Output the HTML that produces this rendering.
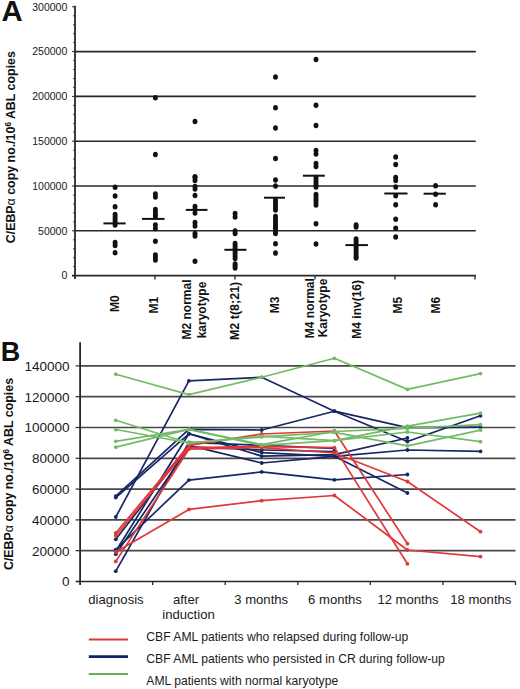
<!DOCTYPE html><html><head><meta charset="utf-8"><style>html,body{margin:0;padding:0;background:#fff;}svg{display:block;}text{font-family:"Liberation Sans",sans-serif;}</style></head><body>
<svg width="520" height="689" viewBox="0 0 520 689">
<rect width="520" height="689" fill="#fff"/>
<text x="1.5" y="20.5" font-size="29.3" font-weight="bold" fill="#111">A</text>
<line x1="75" y1="230.8" x2="475.8" y2="230.8" stroke="#282828" stroke-width="1.6"/>
<line x1="75" y1="186.0" x2="475.8" y2="186.0" stroke="#282828" stroke-width="1.6"/>
<line x1="75" y1="141.2" x2="475.8" y2="141.2" stroke="#282828" stroke-width="1.6"/>
<line x1="75" y1="96.4" x2="475.8" y2="96.4" stroke="#282828" stroke-width="1.6"/>
<line x1="75" y1="51.6" x2="475.8" y2="51.6" stroke="#282828" stroke-width="1.6"/>
<line x1="72" y1="275.6" x2="475.8" y2="275.6" stroke="#282828" stroke-width="1.6"/>
<line x1="75" y1="5.8" x2="75" y2="279" stroke="#282828" stroke-width="1.8"/>
<line x1="72" y1="275.6" x2="75" y2="275.6" stroke="#282828" stroke-width="1"/>
<line x1="73.2" y1="266.6" x2="75" y2="266.6" stroke="#282828" stroke-width="1"/>
<line x1="73.2" y1="257.7" x2="75" y2="257.7" stroke="#282828" stroke-width="1"/>
<line x1="73.2" y1="248.7" x2="75" y2="248.7" stroke="#282828" stroke-width="1"/>
<line x1="73.2" y1="239.8" x2="75" y2="239.8" stroke="#282828" stroke-width="1"/>
<line x1="72" y1="230.8" x2="75" y2="230.8" stroke="#282828" stroke-width="1"/>
<line x1="73.2" y1="221.8" x2="75" y2="221.8" stroke="#282828" stroke-width="1"/>
<line x1="73.2" y1="212.9" x2="75" y2="212.9" stroke="#282828" stroke-width="1"/>
<line x1="73.2" y1="203.9" x2="75" y2="203.9" stroke="#282828" stroke-width="1"/>
<line x1="73.2" y1="195.0" x2="75" y2="195.0" stroke="#282828" stroke-width="1"/>
<line x1="72" y1="186.0" x2="75" y2="186.0" stroke="#282828" stroke-width="1"/>
<line x1="73.2" y1="177.0" x2="75" y2="177.0" stroke="#282828" stroke-width="1"/>
<line x1="73.2" y1="168.1" x2="75" y2="168.1" stroke="#282828" stroke-width="1"/>
<line x1="73.2" y1="159.1" x2="75" y2="159.1" stroke="#282828" stroke-width="1"/>
<line x1="73.2" y1="150.2" x2="75" y2="150.2" stroke="#282828" stroke-width="1"/>
<line x1="72" y1="141.2" x2="75" y2="141.2" stroke="#282828" stroke-width="1"/>
<line x1="73.2" y1="132.2" x2="75" y2="132.2" stroke="#282828" stroke-width="1"/>
<line x1="73.2" y1="123.3" x2="75" y2="123.3" stroke="#282828" stroke-width="1"/>
<line x1="73.2" y1="114.3" x2="75" y2="114.3" stroke="#282828" stroke-width="1"/>
<line x1="73.2" y1="105.4" x2="75" y2="105.4" stroke="#282828" stroke-width="1"/>
<line x1="72" y1="96.4" x2="75" y2="96.4" stroke="#282828" stroke-width="1"/>
<line x1="73.2" y1="87.4" x2="75" y2="87.4" stroke="#282828" stroke-width="1"/>
<line x1="73.2" y1="78.5" x2="75" y2="78.5" stroke="#282828" stroke-width="1"/>
<line x1="73.2" y1="69.5" x2="75" y2="69.5" stroke="#282828" stroke-width="1"/>
<line x1="73.2" y1="60.6" x2="75" y2="60.6" stroke="#282828" stroke-width="1"/>
<line x1="72" y1="51.6" x2="75" y2="51.6" stroke="#282828" stroke-width="1"/>
<line x1="73.2" y1="42.6" x2="75" y2="42.6" stroke="#282828" stroke-width="1"/>
<line x1="73.2" y1="33.7" x2="75" y2="33.7" stroke="#282828" stroke-width="1"/>
<line x1="73.2" y1="24.7" x2="75" y2="24.7" stroke="#282828" stroke-width="1"/>
<line x1="73.2" y1="15.8" x2="75" y2="15.8" stroke="#282828" stroke-width="1"/>
<line x1="72" y1="6.8" x2="75" y2="6.8" stroke="#282828" stroke-width="1"/>
<line x1="155" y1="275.6" x2="155" y2="279.5" stroke="#282828" stroke-width="1.3"/>
<line x1="235" y1="275.6" x2="235" y2="279.5" stroke="#282828" stroke-width="1.3"/>
<line x1="315" y1="275.6" x2="315" y2="279.5" stroke="#282828" stroke-width="1.3"/>
<line x1="395" y1="275.6" x2="395" y2="279.5" stroke="#282828" stroke-width="1.3"/>
<line x1="475" y1="275.6" x2="475" y2="279.5" stroke="#282828" stroke-width="1.3"/>
<text x="67.3" y="279.4" font-size="10.5" text-anchor="end" fill="#1a1a1a">0</text>
<text x="67.3" y="234.6" font-size="10.5" text-anchor="end" fill="#1a1a1a">50000</text>
<text x="67.3" y="189.8" font-size="10.5" text-anchor="end" fill="#1a1a1a">100000</text>
<text x="67.3" y="145.0" font-size="10.5" text-anchor="end" fill="#1a1a1a">150000</text>
<text x="67.3" y="100.2" font-size="10.5" text-anchor="end" fill="#1a1a1a">200000</text>
<text x="67.3" y="55.4" font-size="10.5" text-anchor="end" fill="#1a1a1a">250000</text>
<text x="67.3" y="10.6" font-size="10.5" text-anchor="end" fill="#1a1a1a">300000</text>
<text transform="translate(15.2,147.2) rotate(-90)" font-size="12.4" font-weight="bold" text-anchor="middle" fill="#111">C/EBP<tspan font-weight="normal">α</tspan> copy no./10<tspan font-size="8.2" dy="-4.3">6</tspan><tspan dy="4.3"> ABL copies</tspan></text>
<text transform="translate(119.1,303.6) rotate(-90)" font-size="12" font-weight="bold" text-anchor="middle" fill="#111">M0</text>
<text transform="translate(158.0,305.2) rotate(-90)" font-size="12" font-weight="bold" text-anchor="middle" fill="#111">M1</text>
<text transform="translate(190.8,309.5) rotate(-90)" font-size="12" font-weight="bold" text-anchor="middle" fill="#111">M2 normal</text>
<text transform="translate(205.5,310.0) rotate(-90)" font-size="12" font-weight="bold" text-anchor="middle" fill="#111">karyotype</text>
<text transform="translate(239.4,310.9) rotate(-90)" font-size="12.5" font-weight="bold" text-anchor="middle" fill="#111">M2 t(8;21)</text>
<text transform="translate(278.8,305.0) rotate(-90)" font-size="12" font-weight="bold" text-anchor="middle" fill="#111">M3</text>
<text transform="translate(313.9,308.2) rotate(-90)" font-size="12" font-weight="bold" text-anchor="middle" fill="#111">M4 normal</text>
<text transform="translate(327.4,308.0) rotate(-90)" font-size="12" font-weight="bold" text-anchor="middle" fill="#111">Karyotype</text>
<text transform="translate(360.7,309.3) rotate(-90)" font-size="12" font-weight="bold" text-anchor="middle" fill="#111">M4 inv(16)</text>
<text transform="translate(401.5,305.2) rotate(-90)" font-size="12" font-weight="bold" text-anchor="middle" fill="#111">M5</text>
<text transform="translate(440.0,305.2) rotate(-90)" font-size="12" font-weight="bold" text-anchor="middle" fill="#111">M6</text>
<ellipse cx="115.1" cy="187.2" rx="2.45" ry="2.75" fill="#111"/>
<ellipse cx="115.1" cy="196" rx="2.45" ry="2.75" fill="#111"/>
<ellipse cx="115.1" cy="206.7" rx="2.45" ry="2.75" fill="#111"/>
<ellipse cx="115.1" cy="214.5" rx="2.45" ry="2.75" fill="#111"/>
<ellipse cx="115.1" cy="217" rx="2.45" ry="2.75" fill="#111"/>
<ellipse cx="115.1" cy="219.5" rx="2.45" ry="2.75" fill="#111"/>
<ellipse cx="115.1" cy="222" rx="2.45" ry="2.75" fill="#111"/>
<ellipse cx="115.1" cy="225" rx="2.45" ry="2.75" fill="#111"/>
<ellipse cx="115.1" cy="242.5" rx="2.45" ry="2.75" fill="#111"/>
<ellipse cx="115.1" cy="245.5" rx="2.45" ry="2.75" fill="#111"/>
<ellipse cx="115.1" cy="252.7" rx="2.45" ry="2.75" fill="#111"/>
<ellipse cx="155.4" cy="97.7" rx="2.45" ry="2.75" fill="#111"/>
<ellipse cx="155.4" cy="154.4" rx="2.45" ry="2.75" fill="#111"/>
<ellipse cx="155.4" cy="194" rx="2.45" ry="2.75" fill="#111"/>
<ellipse cx="155.4" cy="197" rx="2.45" ry="2.75" fill="#111"/>
<ellipse cx="155.4" cy="209.5" rx="2.45" ry="2.75" fill="#111"/>
<ellipse cx="155.4" cy="212" rx="2.45" ry="2.75" fill="#111"/>
<ellipse cx="155.4" cy="214.5" rx="2.45" ry="2.75" fill="#111"/>
<ellipse cx="155.4" cy="216.5" rx="2.45" ry="2.75" fill="#111"/>
<ellipse cx="155.4" cy="225" rx="2.45" ry="2.75" fill="#111"/>
<ellipse cx="155.4" cy="228.5" rx="2.45" ry="2.75" fill="#111"/>
<ellipse cx="155.4" cy="241.3" rx="2.45" ry="2.75" fill="#111"/>
<ellipse cx="155.4" cy="255" rx="2.45" ry="2.75" fill="#111"/>
<ellipse cx="155.4" cy="257.5" rx="2.45" ry="2.75" fill="#111"/>
<ellipse cx="155.4" cy="260" rx="2.45" ry="2.75" fill="#111"/>
<ellipse cx="195.0" cy="121.5" rx="2.45" ry="2.75" fill="#111"/>
<ellipse cx="195.0" cy="176.7" rx="2.45" ry="2.75" fill="#111"/>
<ellipse cx="195.0" cy="177.5" rx="2.45" ry="2.75" fill="#111"/>
<ellipse cx="195.0" cy="180.5" rx="2.45" ry="2.75" fill="#111"/>
<ellipse cx="195.0" cy="186.5" rx="2.45" ry="2.75" fill="#111"/>
<ellipse cx="195.0" cy="189" rx="2.45" ry="2.75" fill="#111"/>
<ellipse cx="195.0" cy="195.4" rx="2.45" ry="2.75" fill="#111"/>
<ellipse cx="195.0" cy="206.5" rx="2.45" ry="2.75" fill="#111"/>
<ellipse cx="195.0" cy="209.5" rx="2.45" ry="2.75" fill="#111"/>
<ellipse cx="195.0" cy="213" rx="2.45" ry="2.75" fill="#111"/>
<ellipse cx="195.0" cy="222.5" rx="2.45" ry="2.75" fill="#111"/>
<ellipse cx="195.0" cy="226" rx="2.45" ry="2.75" fill="#111"/>
<ellipse cx="195.0" cy="233.5" rx="2.45" ry="2.75" fill="#111"/>
<ellipse cx="195.0" cy="236" rx="2.45" ry="2.75" fill="#111"/>
<ellipse cx="195.0" cy="261.3" rx="2.45" ry="2.75" fill="#111"/>
<ellipse cx="235.1" cy="213.5" rx="2.45" ry="2.75" fill="#111"/>
<ellipse cx="235.1" cy="217" rx="2.45" ry="2.75" fill="#111"/>
<ellipse cx="235.1" cy="231" rx="2.45" ry="2.75" fill="#111"/>
<ellipse cx="235.1" cy="233.5" rx="2.45" ry="2.75" fill="#111"/>
<ellipse cx="235.1" cy="243.5" rx="2.45" ry="2.75" fill="#111"/>
<ellipse cx="235.1" cy="246" rx="2.45" ry="2.75" fill="#111"/>
<ellipse cx="235.1" cy="248.5" rx="2.45" ry="2.75" fill="#111"/>
<ellipse cx="235.1" cy="251" rx="2.45" ry="2.75" fill="#111"/>
<ellipse cx="235.1" cy="253.5" rx="2.45" ry="2.75" fill="#111"/>
<ellipse cx="235.1" cy="256" rx="2.45" ry="2.75" fill="#111"/>
<ellipse cx="235.1" cy="258.5" rx="2.45" ry="2.75" fill="#111"/>
<ellipse cx="235.1" cy="264" rx="2.45" ry="2.75" fill="#111"/>
<ellipse cx="235.1" cy="266" rx="2.45" ry="2.75" fill="#111"/>
<ellipse cx="235.1" cy="268" rx="2.45" ry="2.75" fill="#111"/>
<ellipse cx="275.5" cy="76.9" rx="2.45" ry="2.75" fill="#111"/>
<ellipse cx="275.5" cy="107.7" rx="2.45" ry="2.75" fill="#111"/>
<ellipse cx="275.5" cy="128" rx="2.45" ry="2.75" fill="#111"/>
<ellipse cx="275.5" cy="158.6" rx="2.45" ry="2.75" fill="#111"/>
<ellipse cx="275.5" cy="180.1" rx="2.45" ry="2.75" fill="#111"/>
<ellipse cx="275.5" cy="185.9" rx="2.45" ry="2.75" fill="#111"/>
<ellipse cx="275.5" cy="200" rx="2.45" ry="2.75" fill="#111"/>
<ellipse cx="275.5" cy="202.5" rx="2.45" ry="2.75" fill="#111"/>
<ellipse cx="275.5" cy="205" rx="2.45" ry="2.75" fill="#111"/>
<ellipse cx="275.5" cy="207.5" rx="2.45" ry="2.75" fill="#111"/>
<ellipse cx="275.5" cy="210" rx="2.45" ry="2.75" fill="#111"/>
<ellipse cx="275.5" cy="216.5" rx="2.45" ry="2.75" fill="#111"/>
<ellipse cx="275.5" cy="219" rx="2.45" ry="2.75" fill="#111"/>
<ellipse cx="275.5" cy="221.5" rx="2.45" ry="2.75" fill="#111"/>
<ellipse cx="275.5" cy="224" rx="2.45" ry="2.75" fill="#111"/>
<ellipse cx="275.5" cy="226.5" rx="2.45" ry="2.75" fill="#111"/>
<ellipse cx="275.5" cy="229" rx="2.45" ry="2.75" fill="#111"/>
<ellipse cx="275.5" cy="231.5" rx="2.45" ry="2.75" fill="#111"/>
<ellipse cx="275.5" cy="233.5" rx="2.45" ry="2.75" fill="#111"/>
<ellipse cx="275.5" cy="243.8" rx="2.45" ry="2.75" fill="#111"/>
<ellipse cx="275.5" cy="253.1" rx="2.45" ry="2.75" fill="#111"/>
<ellipse cx="316.0" cy="59.5" rx="2.45" ry="2.75" fill="#111"/>
<ellipse cx="316.0" cy="105.2" rx="2.45" ry="2.75" fill="#111"/>
<ellipse cx="316.0" cy="125.5" rx="2.45" ry="2.75" fill="#111"/>
<ellipse cx="316.0" cy="150.5" rx="2.45" ry="2.75" fill="#111"/>
<ellipse cx="316.0" cy="154" rx="2.45" ry="2.75" fill="#111"/>
<ellipse cx="316.0" cy="163.5" rx="2.45" ry="2.75" fill="#111"/>
<ellipse cx="316.0" cy="166.5" rx="2.45" ry="2.75" fill="#111"/>
<ellipse cx="316.0" cy="177.5" rx="2.45" ry="2.75" fill="#111"/>
<ellipse cx="316.0" cy="180" rx="2.45" ry="2.75" fill="#111"/>
<ellipse cx="316.0" cy="182.5" rx="2.45" ry="2.75" fill="#111"/>
<ellipse cx="316.0" cy="185" rx="2.45" ry="2.75" fill="#111"/>
<ellipse cx="316.0" cy="187" rx="2.45" ry="2.75" fill="#111"/>
<ellipse cx="316.0" cy="194.5" rx="2.45" ry="2.75" fill="#111"/>
<ellipse cx="316.0" cy="197" rx="2.45" ry="2.75" fill="#111"/>
<ellipse cx="316.0" cy="199.5" rx="2.45" ry="2.75" fill="#111"/>
<ellipse cx="316.0" cy="202" rx="2.45" ry="2.75" fill="#111"/>
<ellipse cx="316.0" cy="205" rx="2.45" ry="2.75" fill="#111"/>
<ellipse cx="316.0" cy="223.7" rx="2.45" ry="2.75" fill="#111"/>
<ellipse cx="316.0" cy="243.9" rx="2.45" ry="2.75" fill="#111"/>
<ellipse cx="356.1" cy="225" rx="2.45" ry="2.75" fill="#111"/>
<ellipse cx="356.1" cy="227" rx="2.45" ry="2.75" fill="#111"/>
<ellipse cx="356.1" cy="239" rx="2.45" ry="2.75" fill="#111"/>
<ellipse cx="356.1" cy="241.5" rx="2.45" ry="2.75" fill="#111"/>
<ellipse cx="356.1" cy="244" rx="2.45" ry="2.75" fill="#111"/>
<ellipse cx="356.1" cy="246.5" rx="2.45" ry="2.75" fill="#111"/>
<ellipse cx="356.1" cy="249" rx="2.45" ry="2.75" fill="#111"/>
<ellipse cx="356.1" cy="251.5" rx="2.45" ry="2.75" fill="#111"/>
<ellipse cx="356.1" cy="254" rx="2.45" ry="2.75" fill="#111"/>
<ellipse cx="356.1" cy="256.5" rx="2.45" ry="2.75" fill="#111"/>
<ellipse cx="356.1" cy="258" rx="2.45" ry="2.75" fill="#111"/>
<ellipse cx="395.7" cy="157" rx="2.45" ry="2.75" fill="#111"/>
<ellipse cx="395.7" cy="164.5" rx="2.45" ry="2.75" fill="#111"/>
<ellipse cx="395.7" cy="177.5" rx="2.45" ry="2.75" fill="#111"/>
<ellipse cx="395.7" cy="180.5" rx="2.45" ry="2.75" fill="#111"/>
<ellipse cx="395.7" cy="187" rx="2.45" ry="2.75" fill="#111"/>
<ellipse cx="395.7" cy="195.7" rx="2.45" ry="2.75" fill="#111"/>
<ellipse cx="395.7" cy="204.8" rx="2.45" ry="2.75" fill="#111"/>
<ellipse cx="395.7" cy="219.3" rx="2.45" ry="2.75" fill="#111"/>
<ellipse cx="395.7" cy="228.3" rx="2.45" ry="2.75" fill="#111"/>
<ellipse cx="395.7" cy="237" rx="2.45" ry="2.75" fill="#111"/>
<ellipse cx="435.6" cy="185.8" rx="2.45" ry="2.75" fill="#111"/>
<ellipse cx="435.6" cy="194.3" rx="2.45" ry="2.75" fill="#111"/>
<ellipse cx="435.6" cy="204.7" rx="2.45" ry="2.75" fill="#111"/>
<line x1="103.4" y1="223.4" x2="125.7" y2="223.4" stroke="#111" stroke-width="2"/>
<line x1="142" y1="218.9" x2="164.5" y2="218.9" stroke="#111" stroke-width="2"/>
<line x1="185.8" y1="209.9" x2="207.5" y2="209.9" stroke="#111" stroke-width="2"/>
<line x1="224.4" y1="249.8" x2="246.5" y2="249.8" stroke="#111" stroke-width="2"/>
<line x1="264" y1="197.7" x2="285" y2="197.7" stroke="#111" stroke-width="2"/>
<line x1="302.9" y1="175.7" x2="324.8" y2="175.7" stroke="#111" stroke-width="2"/>
<line x1="345.4" y1="245.1" x2="367.9" y2="245.1" stroke="#111" stroke-width="2"/>
<line x1="384.3" y1="193.5" x2="407.5" y2="193.5" stroke="#111" stroke-width="2"/>
<line x1="423.6" y1="193.7" x2="445.8" y2="193.7" stroke="#111" stroke-width="2"/>
<text x="0.8" y="360.9" font-size="27" font-weight="bold" fill="#111">B</text>
<line x1="80" y1="550.7" x2="515.5" y2="550.7" stroke="#484848" stroke-width="1.7"/>
<line x1="80" y1="519.9" x2="515.5" y2="519.9" stroke="#484848" stroke-width="1.7"/>
<line x1="80" y1="489.1" x2="515.5" y2="489.1" stroke="#484848" stroke-width="1.7"/>
<line x1="80" y1="458.3" x2="515.5" y2="458.3" stroke="#484848" stroke-width="1.7"/>
<line x1="80" y1="427.5" x2="515.5" y2="427.5" stroke="#484848" stroke-width="1.7"/>
<line x1="80" y1="396.7" x2="515.5" y2="396.7" stroke="#484848" stroke-width="1.7"/>
<line x1="80" y1="365.9" x2="515.5" y2="365.9" stroke="#484848" stroke-width="1.7"/>
<line x1="76" y1="581.5" x2="515.5" y2="581.5" stroke="#282828" stroke-width="1.6"/>
<line x1="80.1" y1="342.2" x2="80.1" y2="585" stroke="#282828" stroke-width="1.8"/>
<line x1="75.6" y1="581.5" x2="80" y2="581.5" stroke="#282828" stroke-width="1.2"/>
<text x="69.6" y="586.4" font-size="13.5" text-anchor="end" fill="#1a1a1a">0</text>
<line x1="75.6" y1="550.7" x2="80" y2="550.7" stroke="#282828" stroke-width="1.2"/>
<text x="69.6" y="555.6" font-size="13.5" text-anchor="end" fill="#1a1a1a">20000</text>
<line x1="75.6" y1="519.9" x2="80" y2="519.9" stroke="#282828" stroke-width="1.2"/>
<text x="69.6" y="524.8" font-size="13.5" text-anchor="end" fill="#1a1a1a">40000</text>
<line x1="75.6" y1="489.1" x2="80" y2="489.1" stroke="#282828" stroke-width="1.2"/>
<text x="69.6" y="494.0" font-size="13.5" text-anchor="end" fill="#1a1a1a">60000</text>
<line x1="75.6" y1="458.3" x2="80" y2="458.3" stroke="#282828" stroke-width="1.2"/>
<text x="69.6" y="463.2" font-size="13.5" text-anchor="end" fill="#1a1a1a">80000</text>
<line x1="75.6" y1="427.5" x2="80" y2="427.5" stroke="#282828" stroke-width="1.2"/>
<text x="69.6" y="432.4" font-size="13.5" text-anchor="end" fill="#1a1a1a">100000</text>
<line x1="75.6" y1="396.7" x2="80" y2="396.7" stroke="#282828" stroke-width="1.2"/>
<text x="69.6" y="401.6" font-size="13.5" text-anchor="end" fill="#1a1a1a">120000</text>
<line x1="75.6" y1="365.9" x2="80" y2="365.9" stroke="#282828" stroke-width="1.2"/>
<text x="69.6" y="370.8" font-size="13.5" text-anchor="end" fill="#1a1a1a">140000</text>
<line x1="152.6" y1="581.5" x2="152.6" y2="585" stroke="#282828" stroke-width="1.3"/>
<line x1="225.2" y1="581.5" x2="225.2" y2="585" stroke="#282828" stroke-width="1.3"/>
<line x1="297.8" y1="581.5" x2="297.8" y2="585" stroke="#282828" stroke-width="1.3"/>
<line x1="370.3" y1="581.5" x2="370.3" y2="585" stroke="#282828" stroke-width="1.3"/>
<line x1="442.9" y1="581.5" x2="442.9" y2="585" stroke="#282828" stroke-width="1.3"/>
<line x1="515.5" y1="581.5" x2="515.5" y2="585" stroke="#282828" stroke-width="1.3"/>
<text transform="translate(13.3,474) rotate(-90)" font-size="12.4" font-weight="bold" text-anchor="middle" fill="#111">C/EBP<tspan font-weight="normal">α</tspan> copy no./10<tspan font-size="8.2" dy="-4.3">6</tspan><tspan dy="4.3"> ABL copies</tspan></text>
<text x="116.0" y="604.3" font-size="13.1" text-anchor="middle" fill="#1a1a1a">diagnosis</text>
<text x="186" y="604.3" font-size="13.1" text-anchor="middle" fill="#1a1a1a">after</text>
<text x="188.5" y="619.3" font-size="13.1" text-anchor="middle" fill="#1a1a1a">induction</text>
<text x="261.2" y="604.3" font-size="13.1" text-anchor="middle" fill="#1a1a1a">3 months</text>
<text x="335" y="604.3" font-size="13.1" text-anchor="middle" fill="#1a1a1a">6 months</text>
<text x="408" y="604.3" font-size="13.1" text-anchor="middle" fill="#1a1a1a">12 months</text>
<text x="480.8" y="604.3" font-size="13.1" text-anchor="middle" fill="#1a1a1a">18 months</text>
<polyline points="115.8,517.0 188.9,380.8 261.7,377.3 334.4,411.2 407.4,441.5 480.5,415.8" fill="none" stroke="#172766" stroke-width="1.7" stroke-linejoin="round"/>
<circle cx="115.8" cy="517.0" r="1.9" fill="#172766"/>
<circle cx="188.9" cy="380.8" r="1.9" fill="#172766"/>
<circle cx="261.7" cy="377.3" r="1.9" fill="#172766"/>
<circle cx="334.4" cy="411.2" r="1.9" fill="#172766"/>
<circle cx="407.4" cy="441.5" r="1.9" fill="#172766"/>
<circle cx="480.5" cy="415.8" r="1.9" fill="#172766"/>
<polyline points="115.8,496.1 188.9,429.4 261.7,430.0 334.4,411.2 407.4,427.7 480.5,427.1" fill="none" stroke="#172766" stroke-width="1.7" stroke-linejoin="round"/>
<circle cx="115.8" cy="496.1" r="1.9" fill="#172766"/>
<circle cx="188.9" cy="429.4" r="1.9" fill="#172766"/>
<circle cx="261.7" cy="430.0" r="1.9" fill="#172766"/>
<circle cx="334.4" cy="411.2" r="1.9" fill="#172766"/>
<circle cx="407.4" cy="427.7" r="1.9" fill="#172766"/>
<circle cx="480.5" cy="427.1" r="1.9" fill="#172766"/>
<polyline points="115.8,497.6 188.9,433.8 261.7,452.6 334.4,456.3 407.4,450.0 480.5,451.3" fill="none" stroke="#172766" stroke-width="1.7" stroke-linejoin="round"/>
<circle cx="115.8" cy="497.6" r="1.9" fill="#172766"/>
<circle cx="188.9" cy="433.8" r="1.9" fill="#172766"/>
<circle cx="261.7" cy="452.6" r="1.9" fill="#172766"/>
<circle cx="334.4" cy="456.3" r="1.9" fill="#172766"/>
<circle cx="407.4" cy="450.0" r="1.9" fill="#172766"/>
<circle cx="480.5" cy="451.3" r="1.9" fill="#172766"/>
<polyline points="115.8,549.6 188.9,480.1 261.7,471.9 334.4,479.8 407.4,474.5" fill="none" stroke="#172766" stroke-width="1.7" stroke-linejoin="round"/>
<circle cx="115.8" cy="549.6" r="1.9" fill="#172766"/>
<circle cx="188.9" cy="480.1" r="1.9" fill="#172766"/>
<circle cx="261.7" cy="471.9" r="1.9" fill="#172766"/>
<circle cx="334.4" cy="479.8" r="1.9" fill="#172766"/>
<circle cx="407.4" cy="474.5" r="1.9" fill="#172766"/>
<polyline points="115.8,539.3 188.9,445.3 261.7,463.0 334.4,456.3 407.4,493.0" fill="none" stroke="#172766" stroke-width="1.7" stroke-linejoin="round"/>
<circle cx="115.8" cy="539.3" r="1.9" fill="#172766"/>
<circle cx="188.9" cy="445.3" r="1.9" fill="#172766"/>
<circle cx="261.7" cy="463.0" r="1.9" fill="#172766"/>
<circle cx="334.4" cy="456.3" r="1.9" fill="#172766"/>
<circle cx="407.4" cy="493.0" r="1.9" fill="#172766"/>
<polyline points="115.8,551.2 188.9,433.8 261.7,456.1 334.4,454.6 407.4,438.0" fill="none" stroke="#172766" stroke-width="1.7" stroke-linejoin="round"/>
<circle cx="115.8" cy="551.2" r="1.9" fill="#172766"/>
<circle cx="188.9" cy="433.8" r="1.9" fill="#172766"/>
<circle cx="261.7" cy="456.1" r="1.9" fill="#172766"/>
<circle cx="334.4" cy="454.6" r="1.9" fill="#172766"/>
<circle cx="407.4" cy="438.0" r="1.9" fill="#172766"/>
<polyline points="115.8,554.2 188.9,446.9 261.7,450.0 334.4,451.5" fill="none" stroke="#172766" stroke-width="1.7" stroke-linejoin="round"/>
<circle cx="115.8" cy="554.2" r="1.9" fill="#172766"/>
<circle cx="188.9" cy="446.9" r="1.9" fill="#172766"/>
<circle cx="261.7" cy="450.0" r="1.9" fill="#172766"/>
<circle cx="334.4" cy="451.5" r="1.9" fill="#172766"/>
<polyline points="115.8,571.2 188.9,442.3 261.7,445.3 334.4,448.4" fill="none" stroke="#172766" stroke-width="1.7" stroke-linejoin="round"/>
<circle cx="115.8" cy="571.2" r="1.9" fill="#172766"/>
<circle cx="188.9" cy="442.3" r="1.9" fill="#172766"/>
<circle cx="261.7" cy="445.3" r="1.9" fill="#172766"/>
<circle cx="334.4" cy="448.4" r="1.9" fill="#172766"/>
<polyline points="115.8,533.0 188.9,445.3 261.7,434.0 334.4,431.0 407.4,543.7" fill="none" stroke="#e0383a" stroke-width="1.7" stroke-linejoin="round"/>
<circle cx="115.8" cy="533.0" r="1.9" fill="#e0383a"/>
<circle cx="188.9" cy="445.3" r="1.9" fill="#e0383a"/>
<circle cx="261.7" cy="434.0" r="1.9" fill="#e0383a"/>
<circle cx="334.4" cy="431.0" r="1.9" fill="#e0383a"/>
<circle cx="407.4" cy="543.7" r="1.9" fill="#e0383a"/>
<polyline points="115.8,535.7 188.9,447.6 261.7,446.6 334.4,447.6 407.4,563.8" fill="none" stroke="#e0383a" stroke-width="1.7" stroke-linejoin="round"/>
<circle cx="115.8" cy="535.7" r="1.9" fill="#e0383a"/>
<circle cx="188.9" cy="447.6" r="1.9" fill="#e0383a"/>
<circle cx="261.7" cy="446.6" r="1.9" fill="#e0383a"/>
<circle cx="334.4" cy="447.6" r="1.9" fill="#e0383a"/>
<circle cx="407.4" cy="563.8" r="1.9" fill="#e0383a"/>
<polyline points="115.8,552.0 188.9,509.4 261.7,500.7 334.4,495.5 407.4,550.0 480.5,556.6" fill="none" stroke="#e0383a" stroke-width="1.7" stroke-linejoin="round"/>
<circle cx="115.8" cy="552.0" r="1.9" fill="#e0383a"/>
<circle cx="188.9" cy="509.4" r="1.9" fill="#e0383a"/>
<circle cx="261.7" cy="500.7" r="1.9" fill="#e0383a"/>
<circle cx="334.4" cy="495.5" r="1.9" fill="#e0383a"/>
<circle cx="407.4" cy="550.0" r="1.9" fill="#e0383a"/>
<circle cx="480.5" cy="556.6" r="1.9" fill="#e0383a"/>
<polyline points="115.8,561.4 188.9,449.2 261.7,447.6 334.4,453.0 407.4,481.5 480.5,531.7" fill="none" stroke="#e0383a" stroke-width="1.7" stroke-linejoin="round"/>
<circle cx="115.8" cy="561.4" r="1.9" fill="#e0383a"/>
<circle cx="188.9" cy="449.2" r="1.9" fill="#e0383a"/>
<circle cx="261.7" cy="447.6" r="1.9" fill="#e0383a"/>
<circle cx="334.4" cy="453.0" r="1.9" fill="#e0383a"/>
<circle cx="407.4" cy="481.5" r="1.9" fill="#e0383a"/>
<circle cx="480.5" cy="531.7" r="1.9" fill="#e0383a"/>
<polyline points="115.8,374.2 188.9,394.6 261.7,377.3 334.4,358.3 407.4,389.4 480.5,373.6" fill="none" stroke="#74bb66" stroke-width="1.7" stroke-linejoin="round"/>
<circle cx="115.8" cy="374.2" r="1.9" fill="#74bb66"/>
<circle cx="188.9" cy="394.6" r="1.9" fill="#74bb66"/>
<circle cx="261.7" cy="377.3" r="1.9" fill="#74bb66"/>
<circle cx="334.4" cy="358.3" r="1.9" fill="#74bb66"/>
<circle cx="407.4" cy="389.4" r="1.9" fill="#74bb66"/>
<circle cx="480.5" cy="373.6" r="1.9" fill="#74bb66"/>
<polyline points="115.8,420.3 188.9,443.0 261.7,436.1 334.4,440.7 407.4,426.1 480.5,413.1" fill="none" stroke="#74bb66" stroke-width="1.7" stroke-linejoin="round"/>
<circle cx="115.8" cy="420.3" r="1.9" fill="#74bb66"/>
<circle cx="188.9" cy="443.0" r="1.9" fill="#74bb66"/>
<circle cx="261.7" cy="436.1" r="1.9" fill="#74bb66"/>
<circle cx="334.4" cy="440.7" r="1.9" fill="#74bb66"/>
<circle cx="407.4" cy="426.1" r="1.9" fill="#74bb66"/>
<circle cx="480.5" cy="413.1" r="1.9" fill="#74bb66"/>
<polyline points="115.8,429.5 188.9,443.0 261.7,436.9 334.4,432.3 407.4,445.8 480.5,430.1" fill="none" stroke="#74bb66" stroke-width="1.7" stroke-linejoin="round"/>
<circle cx="115.8" cy="429.5" r="1.9" fill="#74bb66"/>
<circle cx="188.9" cy="443.0" r="1.9" fill="#74bb66"/>
<circle cx="261.7" cy="436.9" r="1.9" fill="#74bb66"/>
<circle cx="334.4" cy="432.3" r="1.9" fill="#74bb66"/>
<circle cx="407.4" cy="445.8" r="1.9" fill="#74bb66"/>
<circle cx="480.5" cy="430.1" r="1.9" fill="#74bb66"/>
<polyline points="115.8,441.3 188.9,429.4 261.7,444.6 334.4,431.5 407.4,428.4 480.5,424.6" fill="none" stroke="#74bb66" stroke-width="1.7" stroke-linejoin="round"/>
<circle cx="115.8" cy="441.3" r="1.9" fill="#74bb66"/>
<circle cx="188.9" cy="429.4" r="1.9" fill="#74bb66"/>
<circle cx="261.7" cy="444.6" r="1.9" fill="#74bb66"/>
<circle cx="334.4" cy="431.5" r="1.9" fill="#74bb66"/>
<circle cx="407.4" cy="428.4" r="1.9" fill="#74bb66"/>
<circle cx="480.5" cy="424.6" r="1.9" fill="#74bb66"/>
<polyline points="115.8,447.2 188.9,429.4 261.7,445.3 334.4,440.7 407.4,432.0 480.5,441.7" fill="none" stroke="#74bb66" stroke-width="1.7" stroke-linejoin="round"/>
<circle cx="115.8" cy="447.2" r="1.9" fill="#74bb66"/>
<circle cx="188.9" cy="429.4" r="1.9" fill="#74bb66"/>
<circle cx="261.7" cy="445.3" r="1.9" fill="#74bb66"/>
<circle cx="334.4" cy="440.7" r="1.9" fill="#74bb66"/>
<circle cx="407.4" cy="432.0" r="1.9" fill="#74bb66"/>
<circle cx="480.5" cy="441.7" r="1.9" fill="#74bb66"/>
<line x1="88.8" y1="639.5" x2="128" y2="639.5" stroke="#d83a38" stroke-width="2"/>
<line x1="88.8" y1="656.6" x2="128" y2="656.6" stroke="#0e2466" stroke-width="2.6"/>
<line x1="88.8" y1="674" x2="128" y2="674" stroke="#6cae58" stroke-width="2"/>
<text x="146.3" y="641.2" font-size="12.15" fill="#1a1a1a">CBF AML patients who relapsed during follow-up</text>
<text x="146.3" y="663" font-size="12.15" fill="#1a1a1a">CBF AML patients who persisted in CR during follow-up</text>
<text x="146.3" y="684.5" font-size="12.15" fill="#1a1a1a">AML patients with normal karyotype</text>
</svg></body></html>
